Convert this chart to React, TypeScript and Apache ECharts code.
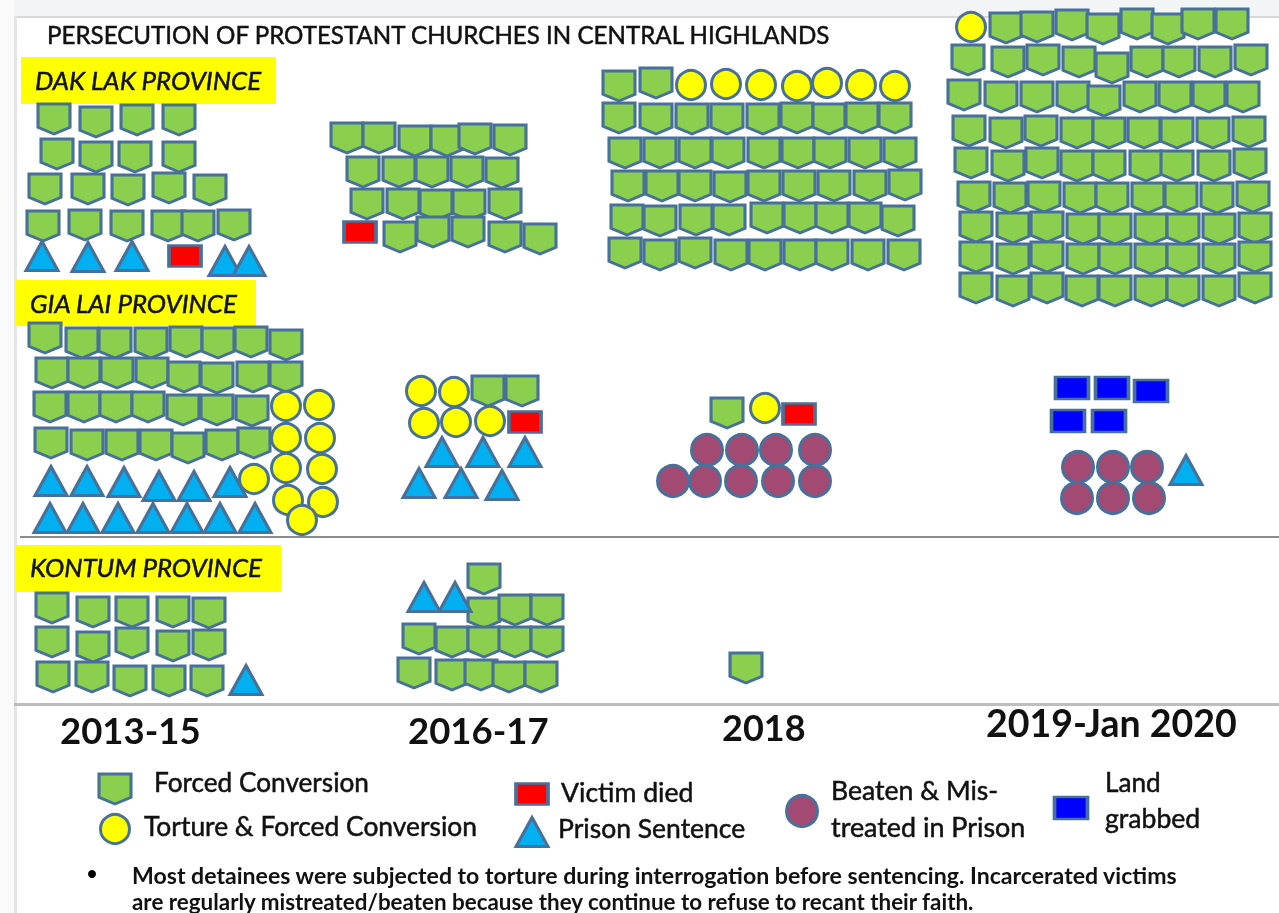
import React, { useEffect, useRef } from "react";
import * as echarts from "echarts";

type Pt = number[];

const titleText = "PERSECUTION OF PROTESTANT CHURCHES IN CENTRAL HIGHLANDS";
const provinces = ["DAK LAK PROVINCE", "GIA LAI PROVINCE", "KONTUM PROVINCE"];
const periods = ["2013-15", "2016-17", "2018", "2019-Jan 2020"];
const noteLines = [
  "Most detainees were subjected to torture during interrogation before sentencing. Incarcerated victims",
  "are regularly mistreated/beaten because they continue to refuse to recant their faith.",
];

// Forced Conversion
const forcedDakLak1315: Pt[] = [
  [54,119],[96,122],[137,120],[179,120],
  [57,154],[96,157],[135,157],[179,157],
  [45,189],[88,189],[128,190],[169,188],[210,190],
  [43,226],[85,225],[127,226],[168,226],[198,226],[234,225],
];
const forcedDakLak1617: Pt[] = [
  [347,138],[379,138],[415,141],[447,141],[475,139],[510,140],
  [363,172],[399,172],[432,172],[467,172],[502,173],
  [367,204],[403,204],[436,205],[469,205],[505,204],
  [400,237],[433,232],[468,232],[505,237],[540,239],
];
const forcedDakLak18: Pt[] = [
  [619,86],[656,83],
  [619,118],[656,119],[692,119],[727,119],[763,119],[797,118],[829,119],[862,118],[895,118],
  [625,153],[660,153],[695,153],[728,153],[764,153],[798,153],[830,153],[865,153],[900,153],
  [628,186],[662,186],[695,186],[730,187],[764,186],[799,186],[834,186],[870,186],[905,185],
  [627,220],[660,221],[696,220],[729,220],[767,218],[800,218],[832,218],[865,218],[898,221],
  [625,253],[660,255],[695,253],[731,255],[765,255],[800,255],[832,255],[868,255],[904,255],
];
const forcedDakLak1920: Pt[] = [
  [1006,28],[1037,27],[1072,25],[1103,29],[1137,24],[1168,29],[1198,24],[1232,24],
  [968,60],[1008,62],[1043,60],[1079,62],[1112,68],[1147,62],[1179,62],[1215,62],[1251,60],
  [964,95],[1001,97],[1037,97],[1073,97],[1104,101],[1140,97],[1175,97],[1209,97],[1243,97],
  [969,131],[1006,133],[1041,131],[1077,133],[1109,133],[1144,133],[1177,133],[1213,133],[1249,132],
  [971,163],[1008,166],[1042,163],[1077,166],[1109,166],[1146,166],[1177,166],[1214,166],[1250,164],
  [974,197],[1010,198],[1044,197],[1080,198],[1112,198],[1148,198],[1181,198],[1217,198],[1253,197],
  [976,227],[1013,228],[1047,227],[1083,229],[1115,229],[1151,229],[1183,229],[1219,229],[1255,228],
  [976,257],[1013,259],[1047,257],[1083,259],[1115,259],[1151,259],[1183,259],[1219,259],[1255,257],
  [976,288],[1013,291],[1047,288],[1082,291],[1115,291],[1151,291],[1183,291],[1219,291],[1255,288],
];
const forcedGiaLai1315: Pt[] = [
  [45,338],[82,343],[115,343],[151,343],[186,342],[218,343],[251,342],[286,345],
  [52,373],[84,373],[117,373],[152,373],[184,377],[217,378],[253,377],[286,377],
  [50,407],[84,407],[116,407],[148,407],[183,410],[217,410],[252,411],
  [51,443],[87,445],[122,445],[156,445],[188,448],[222,445],[254,443],
];
const forcedGiaLai1617: Pt[] = [[488,391],[522,391]];
const forcedGiaLai18: Pt[] = [[727,413]];
const forcedKontum1315: Pt[] = [
  [52,608],[93,612],[132,612],[173,612],[209,613],
  [52,642],[93,647],[132,643],[173,646],[209,645],
  [53,677],[92,677],[130,681],[169,681],[207,681],
];
const forcedKontum1617: Pt[] = [
  [484,579],
  [484,613],[515,610],[547,610],
  [419,639],[452,642],[484,642],[515,642],[547,642],
  [414,673],[452,675],[481,675],[509,677],[541,677],
];
const forcedKontum18: Pt[] = [[746,668]];

// Torture & Forced Conversion
const tortureDakLak18: Pt[] = [[691,85],[726,84],[761,85],[797,86],[827,83],[861,85],[895,86]];
const tortureDakLak1920: Pt[] = [[971,27]];
const tortureGiaLai1315: Pt[] = [
  [254,479],[286,406],[319,405],[286,438],[320,438],[286,468],[322,469],[288,500],[323,502],[302,520],
];
const tortureGiaLai1617: Pt[] = [[421,391],[454,392],[424,423],[456,422],[490,421]];
const tortureGiaLai18: Pt[] = [[765,408]];

// Prison Sentence
const prisonDakLak1315: Pt[] = [[42,256],[88,257],[132,256],[225,261],[249,261]];
const prisonGiaLai1315: Pt[] = [
  [51,481],[87,481],[124,482],[159,486],[194,486],[230,482],
  [50,518],[83,518],[118,518],[153,518],[187,518],[220,518],[255,518],
];
const prisonGiaLai1617: Pt[] = [[442,452],[483,452],[525,452],[419,483],[461,483],[502,485]];
const prisonGiaLai1920: Pt[] = [[1186,470]];
const prisonKontum1315: Pt[] = [[246,680]];
const prisonKontum1617: Pt[] = [[424,597],[455,597]];

// Victim died
const diedDakLak: Pt[] = [[185,256],[360,232]];
const diedGiaLai: Pt[] = [[525,422],[799,414]];

// Beaten & Mistreated in Prison
const beatenGiaLai18: Pt[] = [[707,450],[742,450],[776,450],[815,450],[673,481],[705,481],[741,481],[778,481],[815,481]];
const beatenGiaLai1920: Pt[] = [[1078,467],[1113,467],[1147,467],[1077,498],[1113,498],[1149,498]];

// Land grabbed
const landGiaLai1920: Pt[] = [[1072,388],[1112,388],[1151,391],[1068,421],[1109,421]];

// Key marks
const keyForced: Pt[] = [[115,789]];
const keyTorture: Pt[] = [[115,829]];
const keyDied: Pt[] = [[532,794]];
const keyPrison: Pt[] = [[532,832]];
const keyBeaten: Pt[] = [[802,811]];
const keyLand: Pt[] = [[1071,808]];

const SHIELD = "path://M0,0 L100,0 L100,78 L50,100 L0,78 Z";
const EDGE = "#47709a";

function marks(name: string, symbol: string, size: number[], color: string, data: Pt[]) {
  return {
    type: "scatter" as const,
    name,
    symbol,
    symbolSize: size,
    data,
    silent: true,
    itemStyle: { color, borderColor: EDGE, borderWidth: 3, opacity: 1 },
  };
}

const LABEL_FONT = "Lato, 'Open Sans', sans-serif";

export default function App() {
  const ref = useRef<HTMLDivElement>(null);
  useEffect(() => {
    if (!ref.current) return;
    const chart = echarts.init(ref.current, undefined, { renderer: "svg" });
    const txt = (text: string, x: number, y: number, size: number, extra: any = {}) => ({
      type: "text", x, y, z: 20,
      style: {
        text, fontSize: size, fontFamily: LABEL_FONT, fill: "#111",
        verticalAlign: "middle", ...extra,
      },
    });
    const heavy = { stroke: "#111", lineWidth: 0.5 };
    const band = (x: number, y: number, w: number, h: number, fill: string, z = 1) => ({
      type: "rect", z, shape: { x, y, width: w, height: h }, style: { fill },
    });
    chart.setOption({
      animation: false,
      backgroundColor: "#ffffff",
      grid: { left: 0, top: 0, width: 1279, height: 913 },
      xAxis: { type: "value", min: 0, max: 1279, show: false },
      yAxis: { type: "value", min: 0, max: 913, inverse: true, show: false },
      series: [
        marks("Forced Conversion", SHIELD, [32, 30], "#8bcf4e", [
          ...forcedDakLak1315, ...forcedDakLak1617, ...forcedDakLak18, ...forcedDakLak1920,
          ...forcedGiaLai1315, ...forcedGiaLai1617, ...forcedGiaLai18,
          ...forcedKontum1315, ...forcedKontum1617, ...forcedKontum18, ...keyForced,
        ]),
        marks("Prison Sentence", "triangle", [32, 29], "#00b0f0", [
          ...prisonDakLak1315, ...prisonGiaLai1315, ...prisonGiaLai1617, ...prisonGiaLai1920,
          ...prisonKontum1315, ...prisonKontum1617, ...keyPrison,
        ]),
        marks("Torture & Forced Conversion", "circle", [29, 29], "#ffff00", [
          ...tortureDakLak18, ...tortureDakLak1920, ...tortureGiaLai1315, ...tortureGiaLai1617,
          ...tortureGiaLai18, ...keyTorture,
        ]),
        marks("Victim died", "rect", [32, 21], "#ff0000", [...diedDakLak, ...diedGiaLai, ...keyDied]),
        marks("Beaten & Mis-treated in Prison", "circle", [31, 31], "#a34a73", [
          ...beatenGiaLai18, ...beatenGiaLai1920, ...keyBeaten,
        ]),
        marks("Land grabbed", "rect", [33, 22], "#0000ff", [...landGiaLai1920, ...keyLand]),
      ],
      graphic: [
        band(0, 0, 1279, 16, "#f3f4f6"),
        band(14, 16, 1265, 2, "#d8d8d8"),
        band(14, 16, 3, 897, "#e4e4e6"),
        band(0, 0, 14, 913, "#fafafa"),
        band(20, 536, 1259, 2, "#8c8c8c"),
        band(14, 703, 1265, 3, "#bdbdbd"),
        band(21, 57, 255, 47, "#ffff00", 2),
        band(16, 280, 240, 46, "#ffff00", 2),
        band(16, 545, 265, 47, "#ffff00", 2),
        txt(titleText, 47, 34, 24.15, heavy),
        txt(provinces[0], 35, 80, 25.8, { fontStyle: "italic", ...heavy }),
        txt(provinces[1], 30, 303, 25.8, { fontStyle: "italic", ...heavy }),
        txt(provinces[2], 30, 567, 25.8, { fontStyle: "italic", ...heavy }),
        txt(periods[0], 60, 730, 36.5, { fontWeight: "bold" }),
        txt(periods[1], 408, 730, 36.5, { fontWeight: "bold" }),
        txt(periods[2], 722, 727, 36, { fontWeight: "bold" }),
        txt(periods[3], 986, 722, 37.5, { fontWeight: "bold" }),
        txt("Forced Conversion", 154, 782, 26.2, heavy),
        txt("Torture & Forced Conversion", 144, 826, 26.4, heavy),
        txt("Victim died", 561, 792, 26.6, heavy),
        txt("Prison Sentence", 558, 828, 26.5, heavy),
        txt("Beaten & Mis-", 831, 790, 26.6, heavy),
        txt("treated in Prison", 831, 826, 26.9, heavy),
        txt("Land", 1105, 782, 26.2, heavy),
        txt("grabbed", 1105, 818, 26.6, heavy),
        { type: "circle", z: 20, shape: { cx: 92, cy: 874, r: 4 }, style: { fill: "#000" } },
        txt(noteLines[0], 132, 875, 23.1, { fontWeight: "bold" }),
        txt(noteLines[1], 132, 901, 22.4, { fontWeight: "bold" }),
      ],
    });
    return () => chart.dispose();
  }, []);
  return (
    <div
      ref={ref}
      style={{ position: "fixed", left: 0, top: 0, width: 1279, height: 913, overflow: "hidden", filter: "blur(0.6px)" }}
    />
  );
}
